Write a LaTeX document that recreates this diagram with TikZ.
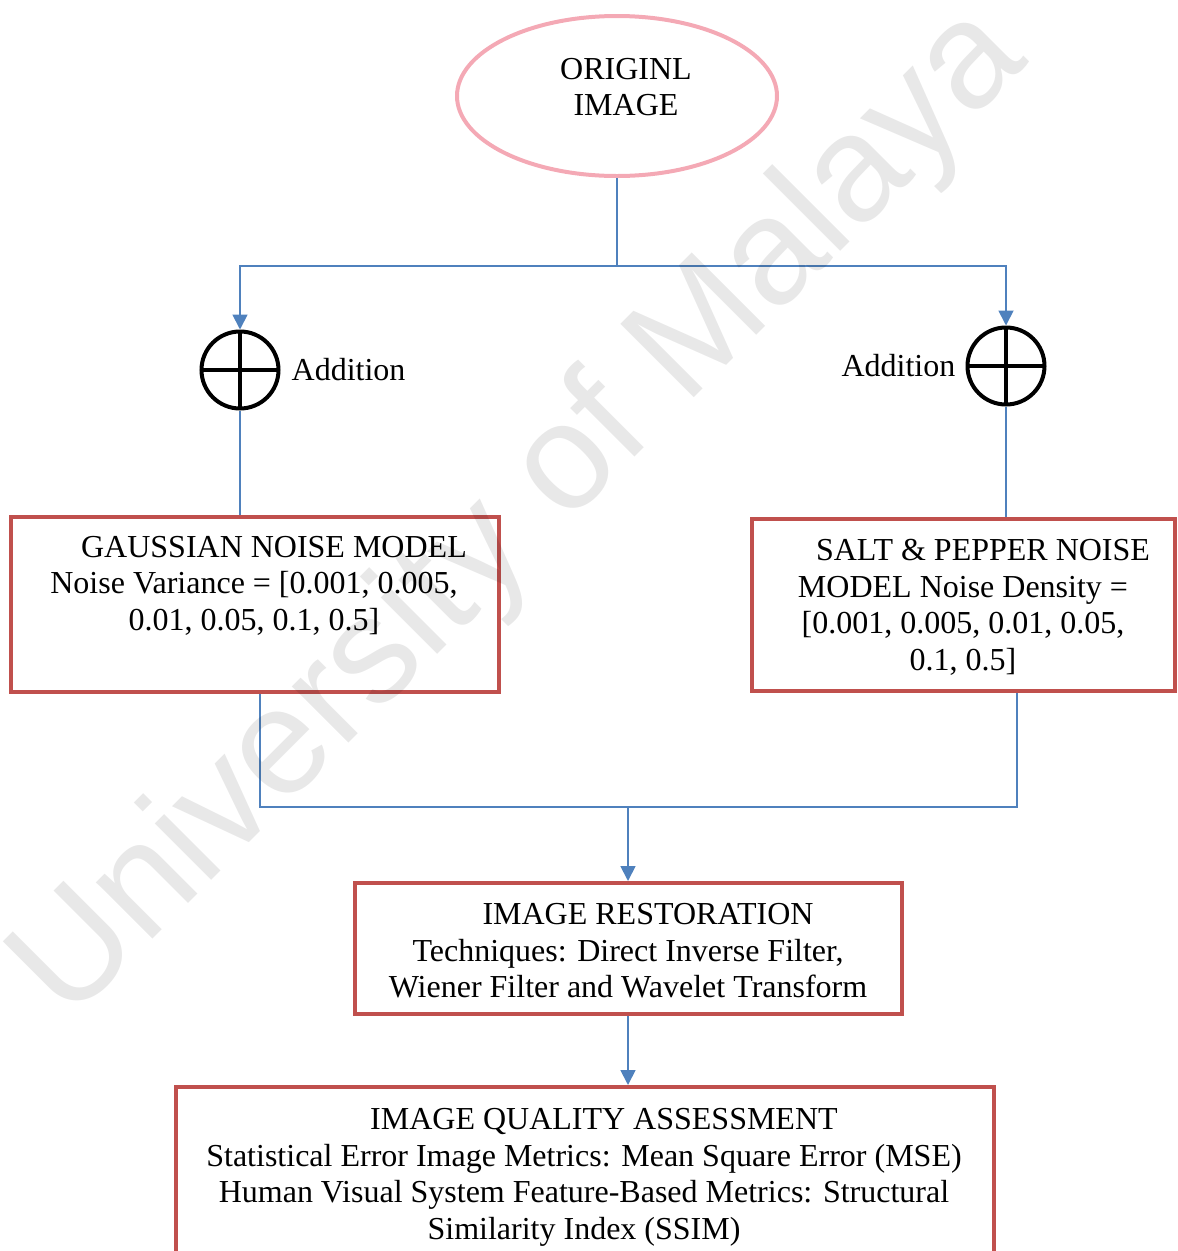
\documentclass[tikz,border=0pt]{standalone}
\usepackage{fontspec}
\setmainfont{Liberation Serif}
\newfontfamily\marcafont{Liberation Sans}
\usetikzlibrary{arrows.meta,positioning,shapes.geometric}
\definecolor{azul}{HTML}{4F81BD}
\definecolor{vermelho}{HTML}{C0504D}
\definecolor{rosa}{HTML}{F4A9B5}
\tikzset{
  redbox/.style={draw=vermelho, line width=4pt, inner sep=0pt},
  oval/.style={ellipse, draw=rosa, line width=4pt, minimum width=320pt, minimum height=160pt},
  boxtext/.style={align=center, inner sep=0pt, anchor=north},
  wire/.style={draw=azul, line width=1.8pt},
  flow/.style={wire, -{Triangle[width=15pt,length=15pt]}},
  plus/.style={circle, draw=black, line width=4pt, minimum size=77pt, inner sep=0pt,
    path picture={\draw[line width=4pt]
      (path picture bounding box.north) -- (path picture bounding box.south)
      (path picture bounding box.west) -- (path picture bounding box.east);}}
}

\begin{document}
\begin{tikzpicture}[x=1pt, y=-1pt, font=\fontsize{32}{36.6}\selectfont]
    \path[use as bounding box, clip] (0,0) rectangle (1178,1251);
    \coordinate (split) at (617,266);
    \coordinate (merge) at (628,807);

    \node[oval] (orig) at (617,96) {};
    \node[boxtext] (origT) at (626,58) {ORIGINL\\IMAGE};

    \node[plus] (addL) at (240,370) {};
    \node[plus] (addR) at (1006,366) {};
    \node[inner sep=0pt, right=11pt of addL] (addLT) {Addition};
    \node[inner sep=0pt, left=10pt of addR] (addRT) {Addition};

    \node[redbox, minimum width=488pt, minimum height=175pt] (gauss) at (255,604.5) {};
    \node[boxtext] (gaussT) at (254,536) {\hspace*{40pt}GAUSSIAN NOISE MODEL\\Noise Variance = [0.001, 0.005,\\0.01, 0.05, 0.1, 0.5]};
    \node[redbox, minimum width=423pt, minimum height=172pt] (salt) at (963.5,605) {};
    \node[boxtext] (saltT) at (963,539) {\hspace*{40pt}SALT \& PEPPER NOISE\\MODEL Noise Density =\\{}[0.001, 0.005, 0.01, 0.05,\\0.1, 0.5]};

    \node[redbox, minimum width=547pt, minimum height=131pt] (rest) at (628,948.5) {};
    \node[boxtext] (restT) at (628,903) {\hspace*{40pt}IMAGE RESTORATION\\Techniques: Direct Inverse Filter,\\Wiener Filter and Wavelet Transform};
    \node[redbox, minimum width=818pt, minimum height=220pt] (qa) at (585,1197) {};
    \node[boxtext] (qaT) at (584,1108) {\hspace*{40pt}IMAGE QUALITY ASSESSMENT\\Statistical Error Image Metrics: Mean Square Error (MSE)\\Human Visual System Feature-Based Metrics: Structural\\Similarity Index (SSIM)};

    % connectors
    \draw[wire] (orig.south) -- (split);
    \draw[flow] (split) -| (addL.north);
    \draw[flow] (split) -| (addR.north);
    \draw[wire] (addL.south) -- (addL.south |- gauss.north);
    \draw[wire] (addR.south) -- (addR.south |- salt.north);
    \draw[wire] ([xshift=5pt]gauss.south) |- (merge) -| ([xshift=53.5pt]salt.south);
    \draw[flow] (merge) -- (rest.north);
    \draw[flow] (rest.south) -- (rest.south |- qa.north);

    \node[font=\marcafont\fontsize{151}{151}\selectfont, text=black, text opacity=0.09,
      rotate=45, anchor=base] (marca) at (549,543) {University of Malaya};
  \end{tikzpicture}
\end{document}
